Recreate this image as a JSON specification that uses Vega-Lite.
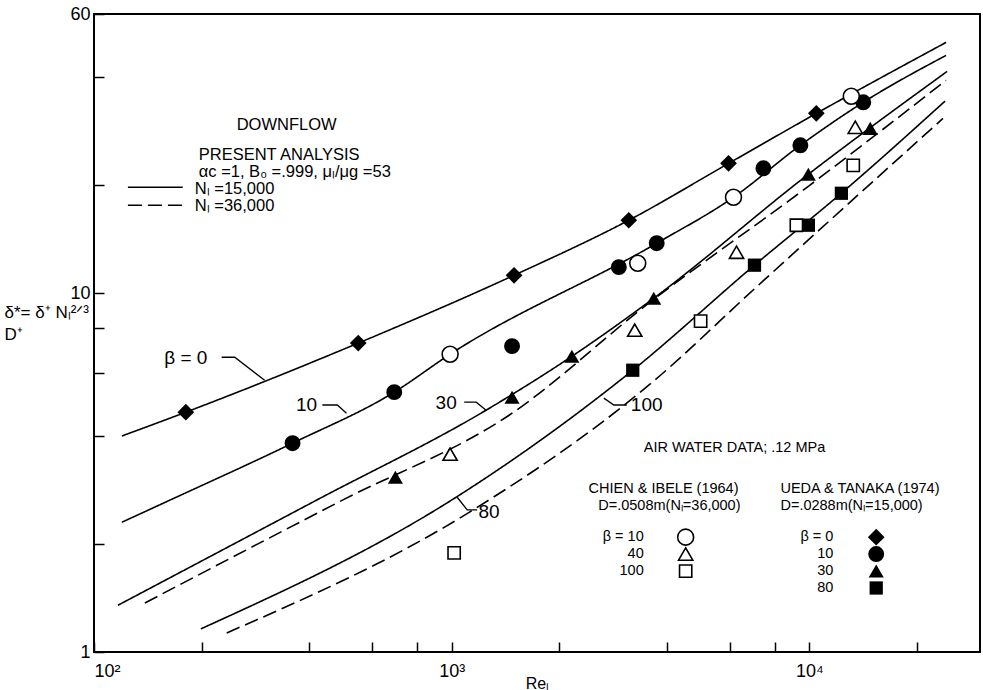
{
  "$schema": "https://vega.github.io/schema/vega-lite/v6.json",
  "width": 886,
  "height": 638,
  "autosize": "none",
  "padding": {"left": 94, "top": 14, "right": 3, "bottom": 38},
  "background": "white",
  "config": {
    "font": "Liberation Sans",
    "view": {"stroke": "black", "strokeWidth": 2},
    "axis": {"domain": false, "grid": false, "tickColor": "black", "tickWidth": 1.5, "labelColor": "black", "titleColor": "black", "labelFontSize": 18, "titleFontWeight": "normal", "labelOverlap": false, "labelFlush": false, "labelBound": false}
  },
  "datasets": {
    "curves": [
      {"curve": "b0", "N": "15,000", "re": 119.7, "d": 4.0},
      {"curve": "b0", "N": "15,000", "re": 180.6, "d": 4.66},
      {"curve": "b0", "N": "15,000", "re": 548, "d": 7.26},
      {"curve": "b0", "N": "15,000", "re": 1494, "d": 11.22},
      {"curve": "b0", "N": "15,000", "re": 3127, "d": 15.97},
      {"curve": "b0", "N": "15,000", "re": 5944, "d": 23.0},
      {"curve": "b0", "N": "15,000", "re": 10459, "d": 31.7},
      {"curve": "b0", "N": "15,000", "re": 24110, "d": 50.0},
      {"curve": "b10", "N": "15,000", "re": 119.7, "d": 2.30},
      {"curve": "b10", "N": "15,000", "re": 163, "d": 2.65},
      {"curve": "b10", "N": "15,000", "re": 359, "d": 3.82},
      {"curve": "b10", "N": "15,000", "re": 691, "d": 5.30},
      {"curve": "b10", "N": "15,000", "re": 990, "d": 6.76},
      {"curve": "b10", "N": "15,000", "re": 3743, "d": 13.78},
      {"curve": "b10", "N": "15,000", "re": 6137, "d": 18.51},
      {"curve": "b10", "N": "15,000", "re": 9439, "d": 25.84},
      {"curve": "b10", "N": "15,000", "re": 14150, "d": 34.04},
      {"curve": "b10", "N": "15,000", "re": 24110, "d": 46.0},
      {"curve": "b30", "N": "15,000", "re": 116.7, "d": 1.35},
      {"curve": "b30", "N": "15,000", "re": 419, "d": 2.65},
      {"curve": "b30", "N": "15,000", "re": 1248, "d": 4.72},
      {"curve": "b30", "N": "15,000", "re": 2168, "d": 6.67},
      {"curve": "b30", "N": "15,000", "re": 3672, "d": 9.68},
      {"curve": "b30", "N": "15,000", "re": 9936, "d": 21.45},
      {"curve": "b30", "N": "15,000", "re": 24270, "d": 41.5},
      {"curve": "b40", "N": "36,000", "re": 138.8, "d": 1.37},
      {"curve": "b40", "N": "36,000", "re": 495, "d": 2.65},
      {"curve": "b40", "N": "36,000", "re": 1447, "d": 4.57},
      {"curve": "b40", "N": "36,000", "re": 3556, "d": 9.38},
      {"curve": "b40", "N": "36,000", "re": 9936, "d": 19.86},
      {"curve": "b40", "N": "36,000", "re": 24110, "d": 39.2},
      {"curve": "b80", "N": "15,000", "re": 199, "d": 1.16},
      {"curve": "b80", "N": "15,000", "re": 1029, "d": 2.70},
      {"curve": "b80", "N": "15,000", "re": 3208, "d": 6.10},
      {"curve": "b80", "N": "15,000", "re": 7024, "d": 11.97},
      {"curve": "b80", "N": "15,000", "re": 12290, "d": 19.0},
      {"curve": "b80", "N": "15,000", "re": 23950, "d": 34.3},
      {"curve": "b100", "N": "36,000", "re": 235, "d": 1.13},
      {"curve": "b100", "N": "36,000", "re": 1119, "d": 2.45},
      {"curve": "b100", "N": "36,000", "re": 3556, "d": 5.54},
      {"curve": "b100", "N": "36,000", "re": 7206, "d": 10.53},
      {"curve": "b100", "N": "36,000", "re": 23640, "d": 30.7}
    ],
    "legendLines": [
      {"N": "15,000", "re": 124.4, "d": 19.74},
      {"N": "15,000", "re": 177.1, "d": 19.74},
      {"N": "36,000", "re": 124.4, "d": 17.59},
      {"N": "36,000", "re": 177.1, "d": 17.59}
    ],
    "leaders": [
      {"id": "L0", "re": 227.5, "d": 6.63},
      {"id": "L0", "re": 247.4, "d": 6.63},
      {"id": "L0", "re": 300, "d": 5.72},
      {"id": "L10", "re": 435, "d": 4.88},
      {"id": "L10", "re": 479, "d": 4.88},
      {"id": "L10", "re": 508, "d": 4.63},
      {"id": "L30", "re": 1084, "d": 4.97},
      {"id": "L30", "re": 1171, "d": 4.97},
      {"id": "L30", "re": 1248, "d": 4.72},
      {"id": "L80", "re": 1036, "d": 2.70},
      {"id": "L80", "re": 1105, "d": 2.49},
      {"id": "L80", "re": 1178, "d": 2.49},
      {"id": "L100", "re": 2664, "d": 5.10},
      {"id": "L100", "re": 2841, "d": 4.88},
      {"id": "L100", "re": 3087, "d": 4.88}
    ],
    "points": [
      {"source": "Ueda", "beta": "0", "re": 180.6, "d": 4.66},
      {"source": "Ueda", "beta": "0", "re": 548, "d": 7.26},
      {"source": "Ueda", "beta": "0", "re": 1494, "d": 11.22},
      {"source": "Ueda", "beta": "0", "re": 3127, "d": 15.97},
      {"source": "Ueda", "beta": "0", "re": 5944, "d": 23.02},
      {"source": "Ueda", "beta": "0", "re": 10459, "d": 31.72},
      {"source": "Ueda", "beta": "10", "re": 359, "d": 3.82},
      {"source": "Ueda", "beta": "10", "re": 691, "d": 5.30},
      {"source": "Ueda", "beta": "10", "re": 1475, "d": 7.12},
      {"source": "Ueda", "beta": "10", "re": 2933, "d": 11.82},
      {"source": "Ueda", "beta": "10", "re": 3743, "d": 13.78},
      {"source": "Ueda", "beta": "10", "re": 7440, "d": 22.29},
      {"source": "Ueda", "beta": "10", "re": 9439, "d": 25.84},
      {"source": "Ueda", "beta": "10", "re": 14150, "d": 34.04},
      {"source": "Ueda", "beta": "30", "re": 696, "d": 3.07},
      {"source": "Ueda", "beta": "30", "re": 1475, "d": 5.13},
      {"source": "Ueda", "beta": "30", "re": 2168, "d": 6.67},
      {"source": "Ueda", "beta": "30", "re": 3672, "d": 9.68},
      {"source": "Ueda", "beta": "30", "re": 9936, "d": 21.45},
      {"source": "Ueda", "beta": "30", "re": 14800, "d": 28.8},
      {"source": "Ueda", "beta": "80", "re": 3208, "d": 6.10},
      {"source": "Ueda", "beta": "80", "re": 7024, "d": 11.97},
      {"source": "Ueda", "beta": "80", "re": 9936, "d": 15.47},
      {"source": "Ueda", "beta": "80", "re": 12290, "d": 18.99},
      {"source": "Chien", "beta": "10", "re": 990, "d": 6.76},
      {"source": "Chien", "beta": "10", "re": 3313, "d": 12.12},
      {"source": "Chien", "beta": "10", "re": 6137, "d": 18.51},
      {"source": "Chien", "beta": "10", "re": 13100, "d": 35.4},
      {"source": "Chien", "beta": "40", "re": 990, "d": 3.56},
      {"source": "Chien", "beta": "40", "re": 3250, "d": 7.89},
      {"source": "Chien", "beta": "40", "re": 6257, "d": 13.01},
      {"source": "Chien", "beta": "40", "re": 13440, "d": 29.0},
      {"source": "Chien", "beta": "100", "re": 1016, "d": 1.89},
      {"source": "Chien", "beta": "100", "re": 4966, "d": 8.36},
      {"source": "Chien", "beta": "100", "re": 9199, "d": 15.47},
      {"source": "Chien", "beta": "100", "re": 13265, "d": 22.72}
    ],
    "legendSymbols": [
      {"source": "Chien", "beta": "10", "re": 4510, "d": 2.09},
      {"source": "Chien", "beta": "40", "re": 4510, "d": 1.875},
      {"source": "Chien", "beta": "100", "re": 4510, "d": 1.681},
      {"source": "Ueda", "beta": "0", "re": 15380, "d": 2.09},
      {"source": "Ueda", "beta": "10", "re": 15380, "d": 1.875},
      {"source": "Ueda", "beta": "30", "re": 15380, "d": 1.681},
      {"source": "Ueda", "beta": "80", "re": 15380, "d": 1.508}
    ],
    "texts": [
      {"group": "head", "label": "DOWNFLOW", "re": 250.5, "d": 29.5},
      {"group": "head", "label": "PRESENT ANALYSIS", "re": 196.3, "d": 24.23},
      {"group": "head", "label": "αc =1, B₀ =.999, μₗ/μg =53", "re": 196.3, "d": 21.8},
      {"group": "head", "label": "Nₗ =15,000", "re": 191.3, "d": 19.49},
      {"group": "head", "label": "Nₗ =36,000", "re": 191.3, "d": 17.47},
      {"group": "curve", "label": "β = 0", "re": 180.6, "d": 6.59},
      {"group": "curve", "label": "10", "re": 393, "d": 4.88},
      {"group": "curve", "label": "30", "re": 965, "d": 4.94},
      {"group": "curve", "label": "80", "re": 1272, "d": 2.45},
      {"group": "curve", "label": "100", "re": 3510, "d": 4.88},
      {"group": "tleft", "label": "AIR WATER DATA; .12 MPa", "re": 3443, "d": 3.70},
      {"group": "tleft", "label": "UEDA & TANAKA (1974)", "re": 8302, "d": 2.845},
      {"group": "tleft", "label": "D=.0288m(Nₗ=15,000)", "re": 8302, "d": 2.55},
      {"group": "tright", "label": "CHIEN & IBELE (1964)", "re": 6338, "d": 2.845},
      {"group": "tright", "label": "D=.0508m(Nₗ=36,000)", "re": 6420, "d": 2.55},
      {"group": "tright", "label": "β =  10", "re": 3443, "d": 2.09},
      {"group": "tright", "label": "40", "re": 3443, "d": 1.875},
      {"group": "tright", "label": "100", "re": 3443, "d": 1.681},
      {"group": "tright", "label": "β =  0", "re": 11670, "d": 2.09},
      {"group": "tright", "label": "10", "re": 11670, "d": 1.875},
      {"group": "tright", "label": "30", "re": 11670, "d": 1.681},
      {"group": "tright", "label": "80", "re": 11670, "d": 1.508}
    ]
  },
  "encoding": {
    "x": {
      "field": "re", "type": "quantitative",
      "scale": {"type": "log", "domain": [100, 30000], "nice": false},
      "axis": {
        "values": [100, 200, 400, 600, 800, 1000, 2000, 4000, 6000, 8000, 10000, 20000],
        "tickSize": -10,
        "labelPadding": 20,
        "labelAlign": {"expr": "datum.value == 100 ? 'left' : 'center'"},
        "labelExpr": "datum.value == 100 ? '10²' : datum.value == 1000 ? '10³' : datum.value == 10000 ? '10⁴' : ''",
        "title": "Reₗ",
        "titleFontSize": 16,
        "titleY": 31,
        "titleBaseline": "middle"
      }
    },
    "y": {
      "field": "d", "type": "quantitative",
      "scale": {"type": "log", "domain": [1, 60], "nice": false, "zero": false},
      "axis": {
        "values": [1, 2, 4, 6, 8, 10, 20, 40, 60],
        "tickSize": -10,
        "labelPadding": 14,
        "labelExpr": "datum.value == 1 ? '1' : datum.value == 10 ? '10' : datum.value == 60 ? '60' : ''",
        "title": ["δ*= δ⁺ Nₗ²ᐟ³", "     D⁺"],
        "titleFontSize": 17,
        "titleLineHeight": 22,
        "titleAngle": 0,
        "titleAlign": "left",
        "titleBaseline": "middle",
        "titleX": -90,
        "titleY": 298
      }
    }
  },
  "layer": [
    {
      "data": {"name": "curves"},
      "mark": {"type": "line", "color": "black", "strokeWidth": 1.6, "interpolate": "monotone"},
      "encoding": {
        "detail": {"field": "curve"},
        "strokeDash": {"field": "N", "type": "nominal", "scale": {"domain": ["15,000", "36,000"], "range": [[1, 0], [14, 6]]}, "legend": null}
      }
    },
    {
      "data": {"name": "legendLines"},
      "mark": {"type": "line", "color": "black", "strokeWidth": 1.6},
      "encoding": {
        "detail": {"field": "N"},
        "strokeDash": {"field": "N", "type": "nominal", "legend": null}
      }
    },
    {
      "data": {"name": "leaders"},
      "mark": {"type": "line", "color": "black", "strokeWidth": 1.3},
      "encoding": {"detail": {"field": "id"}}
    },
    {
      "data": {"name": "points"},
      "transform": [{"filter": "datum.source == 'Ueda'"}],
      "mark": {"type": "point", "filled": true, "color": "black", "opacity": 1},
      "encoding": {
        "shape": {"field": "beta", "type": "nominal", "scale": {"domain": ["0", "10", "30", "40", "80", "100"], "range": ["diamond", "circle", "triangle-up", "triangle-up", "square", "square"]}, "legend": null},
        "size": {"field": "beta", "type": "ordinal", "scale": {"domain": ["0", "10", "30", "40", "80", "100"], "range": [280, 150, 95, 95, 165, 165]}, "legend": null}
      }
    },
    {
      "data": {"name": "points"},
      "transform": [{"filter": "datum.source == 'Chien'"}],
      "mark": {"type": "point", "filled": false, "fill": "white", "fillOpacity": 1, "stroke": "black", "strokeWidth": 1.6, "opacity": 1},
      "encoding": {
        "shape": {"field": "beta", "type": "nominal", "legend": null},
        "size": {"field": "beta", "type": "ordinal", "legend": null}
      }
    },
    {
      "data": {"name": "legendSymbols"},
      "transform": [{"filter": "datum.source == 'Ueda'"}],
      "mark": {"type": "point", "filled": true, "color": "black", "opacity": 1},
      "encoding": {
        "shape": {"field": "beta", "type": "nominal", "legend": null},
        "size": {"field": "beta", "type": "ordinal", "legend": null}
      }
    },
    {
      "data": {"name": "legendSymbols"},
      "transform": [{"filter": "datum.source == 'Chien'"}],
      "mark": {"type": "point", "filled": false, "fill": "white", "fillOpacity": 1, "stroke": "black", "strokeWidth": 1.6, "opacity": 1},
      "encoding": {
        "shape": {"field": "beta", "type": "nominal", "legend": null},
        "size": {"field": "beta", "type": "ordinal", "legend": null}
      }
    },
    {
      "data": {"name": "texts"},
      "transform": [{"filter": "datum.group == 'head'"}],
      "mark": {"type": "text", "align": "left", "baseline": "middle", "fontSize": 16.5, "color": "black"},
      "encoding": {"text": {"field": "label"}}
    },
    {
      "data": {"name": "texts"},
      "transform": [{"filter": "datum.group == 'curve'"}],
      "mark": {"type": "text", "align": "center", "baseline": "middle", "fontSize": 19, "color": "black"},
      "encoding": {"text": {"field": "label"}}
    },
    {
      "data": {"name": "texts"},
      "transform": [{"filter": "datum.group == 'tleft'"}],
      "mark": {"type": "text", "align": "left", "baseline": "middle", "fontSize": 14.5, "color": "black"},
      "encoding": {"text": {"field": "label"}}
    },
    {
      "data": {"name": "texts"},
      "transform": [{"filter": "datum.group == 'tright'"}],
      "mark": {"type": "text", "align": "right", "baseline": "middle", "fontSize": 14.5, "color": "black"},
      "encoding": {"text": {"field": "label"}}
    }
  ]
}
